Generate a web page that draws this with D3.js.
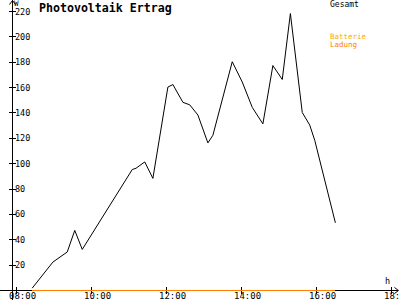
<!DOCTYPE html>
<html>
<head>
<meta charset="utf-8">
<script src="https://cdn.jsdelivr.net/npm/d3@7/dist/d3.min.js"></script>
<style>
body { margin:0; background:#fff; }
svg text { font-family: "DejaVu Sans Mono", monospace; }
</style>
</head>
<body>
<svg width="400" height="300"></svg>
<script>
// readings of the "Gesamt" curve (time, W)
var times = ["08:26","08:59","09:22","09:34","09:46","11:06","11:12","11:26","11:39",
             "12:03","12:11","12:27","12:38","12:51","13:07","13:15","13:46","14:02",
             "14:18","14:35","14:51","15:06","15:19","15:38","15:50","15:58","16:31"];
var gesamt = [1.5,22,30,47,32,95,96,101,88,
              160,162,148,146,138,116,122,180,164,
              144,131,177,166,218,140,130,118,53];
var y_ticks = [20,40,60,80,100,120,140,160,180,200,220];
var x_ticks = ["08:00","10:00","12:00","14:00","16:00","18:00"];

var parse = d3.timeParse("%H:%M");
var svg = d3.select("svg");

var x = d3.scaleTime().domain([parse("08:00"), parse("18:00")]).range([16, 391]);
var y = d3.scaleLinear().domain([0, 220]).range([290, 11]);

var data = times.map(function(t, i){ return {t: parse(t), v: gesamt[i]}; });

// axes lines
var ax = svg.append("g").attr("stroke", "#000").attr("shape-rendering", "crispEdges");
ax.append("line").attr("x1", 12.5).attr("x2", 12.5).attr("y1", 0).attr("y2", 300);
ax.append("line").attr("x1", 0).attr("x2", 398).attr("y1", y(0) + 0.5).attr("y2", y(0) + 0.5);

// arrows
svg.append("path").attr("d", "M9.5,4.5 L12.5,0.5 L15.5,4.5").attr("fill", "none").attr("stroke", "#000");
svg.append("path").attr("d", "M394.5,287.5 L398.5,290.5 L394.5,293.5").attr("fill", "none").attr("stroke", "#000");

// y ticks
var yt = svg.append("g");
yt.selectAll("line").data(y_ticks).join("line")
    .attr("x1", 9).attr("x2", 16)
    .attr("y1", function(d){ return Math.round(y(d)) + 0.5; })
    .attr("y2", function(d){ return Math.round(y(d)) + 0.5; })
    .attr("stroke", "#000").attr("shape-rendering", "crispEdges");
yt.selectAll("text").data(y_ticks).join("text")
    .attr("x", 15).attr("y", function(d){ return y(d) + 3.5; })
    .attr("font-size", "8.5px")
    .text(function(d){ return d; });

// x ticks
var xt = svg.append("g");
xt.selectAll("line").data(x_ticks).join("line")
    .attr("x1", function(d){ return Math.round(x(parse(d))) + 0.5; })
    .attr("x2", function(d){ return Math.round(x(parse(d))) + 0.5; })
    .attr("y1", 287).attr("y2", 294)
    .attr("stroke", "#000").attr("shape-rendering", "crispEdges");
xt.selectAll("text").data(x_ticks).join("text")
    .attr("x", function(d){ return x(parse(d)) - 7; }).attr("y", 299)
    .attr("font-size", "9px")
    .text(function(d){ return d; });

// axis units
svg.append("text").attr("x", 14).attr("y", 6).attr("font-size", "7.5px").text("W");
svg.append("text").attr("x", 385).attr("y", 284).attr("font-size", "8.5px").text("h");

// battery charge line (zero) along the x axis
svg.append("line")
    .attr("x1", x(data[0].t)).attr("x2", x(data[data.length-1].t))
    .attr("y1", y(0) + 0.5).attr("y2", y(0) + 0.5)
    .attr("stroke", "#ff8000").attr("shape-rendering", "crispEdges");

// gesamt line
var line = d3.line().x(function(d){ return x(d.t); }).y(function(d){ return y(d.v); });
svg.append("path").datum(data)
    .attr("d", line)
    .attr("fill", "none").attr("stroke", "#000").attr("stroke-width", 1);

// title and legend
svg.append("text").attr("x", 39).attr("y", 12)
    .attr("font-size", "11.6px").attr("font-weight", "bold")
    .text("Photovoltaik Ertrag");
svg.append("text").attr("x", 330).attr("y", 7).attr("font-size", "8px").text("Gesamt");
svg.append("text").attr("x", 330).attr("y", 39).attr("font-size", "7.5px").attr("fill", "#ffaa00").text("Batterie");
svg.append("text").attr("x", 330).attr("y", 47).attr("font-size", "7.5px").attr("fill", "#ff8000").text("Ladung");
</script>
</body>
</html>
